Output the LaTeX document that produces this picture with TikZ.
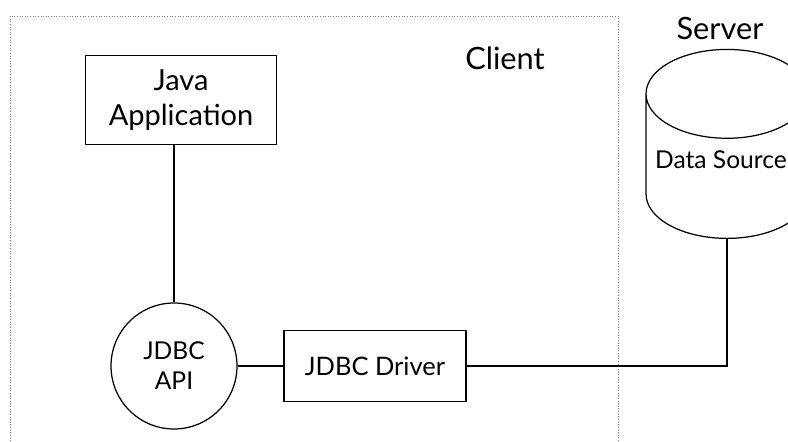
\documentclass[tikz,border=0pt]{standalone}
\usepackage{fontspec}
\setmainfont{Lato}
\usetikzlibrary{shapes.geometric,positioning}
\tikzstyle{block} = [draw, rectangle, fill=white, align=center,
    font=\fontsize{16.5}{20}\selectfont]
\tikzstyle{api} = [draw, circle, fill=white, align=center,
    minimum size=2.52cm, font=\fontsize{14}{17}\selectfont]
\tikzstyle{store} = [draw, cylinder, shape border rotate=90, aspect=0.6,
    minimum width=3.24cm, minimum height=3.78cm,
    font=\fontsize{14.5}{17}\selectfont]
\tikzstyle{area} = [draw=gray, densely dotted, line width=0.5pt]
\tikzstyle{title} = [font=\fontsize{17.5}{21}\selectfont]

\begin{document}
\begin{tikzpicture}[x=0.02cm, y=-0.02cm, line width=0.7pt]
  \clip (0,0) rectangle (788,442);
  % client side
  \draw [area] (10,16) rectangle (618,470);
  \node [title] (client) at (505,58) {Client};
  \node [block, minimum width=3.82cm, minimum height=1.78cm] (java) at (181,100) {Java\\Application};
  \node [api] (jdbc) at (174,366) {JDBC\\API};
  \node [block, right of=jdbc, node distance=4.02cm, minimum width=3.64cm,
    minimum height=1.42cm, font=\fontsize{14.5}{17}\selectfont] (driver) {JDBC Driver};
  % server side
  \node [title] (server) at (720,28) {Server};
  \node [store, anchor=south] (db) at (727,239) {\phantom{Data Source}};
  \node [font=\fontsize{14}{17}\selectfont] (dbtext) at (721,160) {Data Source};
  \draw (jdbc) -- (jdbc |- java.south);
  \draw (jdbc) -- (driver);
  \draw (driver.east) -| (db.south);
\end{tikzpicture}
\end{document}
